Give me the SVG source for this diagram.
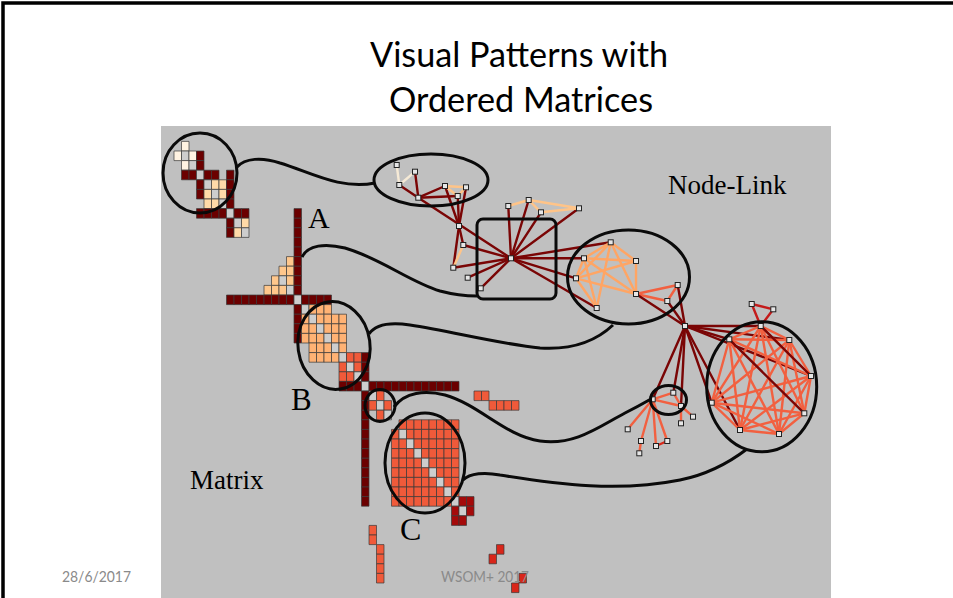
<svg xmlns="http://www.w3.org/2000/svg" xmlns:xlink="http://www.w3.org/1999/xlink" width="953" height="598" viewBox="0 0 953 598">
<style>
.cell rect{vector-effect:non-scaling-stroke;stroke:#3a3a3a;stroke-width:0.7}
.d{fill:#6b0000}.g{fill:#cdcdcd}.c1{fill:#fff3e2}.c2{fill:#ffdaa8}.a{fill:#ffc78c}.b{fill:#ffb274}.r{fill:#f05a3a}.m{fill:#a50a0a}.br{fill:#d8261a}
.e line{stroke-width:2.4;stroke-linecap:round}
.ed{stroke:#7a0505}.ec{stroke:#f6ead6}.el{stroke:#ffc488}.eo{stroke:#ffa564}.er{stroke:#f26040}.et{stroke:#c41a1a}.eb{stroke:#d82a1c}
.out{fill:none;stroke:#0a0a0a;stroke-width:3}
.lbl{font-family:"Liberation Serif","Times New Roman",serif;fill:#000}
.ft{font-family:Lato,"Liberation Sans",sans-serif;font-size:15px;fill:#8a8a8a}
</style>
<defs>
<rect id="nd" x="-2.5" y="-2.5" width="5" height="5" fill="#e6e6e6" stroke="#222" stroke-width="1"/>
</defs>
<rect width="953" height="598" fill="#fff"/>
<path d="M3 598 V3 H953" fill="none" stroke="#000" stroke-width="3.5"/>
<text x="519" y="67" text-anchor="middle" font-family="Lato,'Liberation Sans',sans-serif" font-size="35" textLength="298" lengthAdjust="spacingAndGlyphs" fill="#000">Visual Patterns with</text>
<text x="521" y="112" text-anchor="middle" font-family="Lato,'Liberation Sans',sans-serif" font-size="35" textLength="264" lengthAdjust="spacingAndGlyphs" fill="#000">Ordered Matrices</text>
<rect x="161" y="126" width="670" height="472" fill="#c0c0c0"/>
<g id="matrix" class="cell" transform="translate(174 141.4) scale(7.5 9.6)">
<rect class="c1" x="1" y="0" width="1" height="1"/>
<rect class="c1" x="0" y="1" width="1" height="1"/><rect class="g" x="1" y="1" width="1" height="1"/><rect class="c1" x="2" y="1" width="1" height="1"/><rect class="d" x="3" y="1" width="1" height="1"/>
<rect class="c1" x="1" y="2" width="1" height="1"/><rect class="g" x="2" y="2" width="1" height="1"/><rect class="d" x="3" y="2" width="1" height="1"/>
<rect class="d" x="1" y="3" width="1" height="1"/><rect class="d" x="2" y="3" width="1" height="1"/><rect class="g" x="3" y="3" width="1" height="1"/><rect class="d" x="4" y="3" width="1" height="1"/><rect class="d" x="5" y="3" width="1" height="1"/><rect class="d" x="7" y="3" width="1" height="1"/>
<rect class="d" x="3" y="4" width="1" height="1"/><rect class="g" x="4" y="4" width="1" height="1"/><rect class="c2" x="5" y="4" width="1" height="1"/><rect class="c2" x="6" y="4" width="1" height="1"/><rect class="d" x="7" y="4" width="1" height="1"/>
<rect class="d" x="3" y="5" width="1" height="1"/><rect class="c2" x="4" y="5" width="1" height="1"/><rect class="g" x="5" y="5" width="1" height="1"/><rect class="c2" x="6" y="5" width="1" height="1"/><rect class="d" x="7" y="5" width="1" height="1"/>
<rect class="c2" x="4" y="6" width="1" height="1"/><rect class="c2" x="5" y="6" width="1" height="1"/><rect class="g" x="6" y="6" width="1" height="1"/><rect class="d" x="7" y="6" width="1" height="1"/>
<rect class="d" x="3" y="7" width="1" height="1"/><rect class="d" x="4" y="7" width="1" height="1"/><rect class="d" x="5" y="7" width="1" height="1"/><rect class="d" x="6" y="7" width="1" height="1"/><rect class="g" x="7" y="7" width="1" height="1"/><rect class="d" x="8" y="7" width="1" height="1"/><rect class="d" x="9" y="7" width="1" height="1"/><rect class="d" x="16" y="7" width="1" height="1"/>
<rect class="d" x="7" y="8" width="1" height="1"/><rect class="g" x="8" y="8" width="1" height="1"/><rect class="c2" x="9" y="8" width="1" height="1"/><rect class="d" x="16" y="8" width="1" height="1"/>
<rect class="d" x="7" y="9" width="1" height="1"/><rect class="c2" x="8" y="9" width="1" height="1"/><rect class="g" x="9" y="9" width="1" height="1"/><rect class="d" x="16" y="9" width="1" height="1"/>
<rect class="d" x="16" y="10" width="1" height="1"/>
<rect class="d" x="16" y="11" width="1" height="1"/>
<rect class="a" x="15" y="12" width="1" height="1"/><rect class="d" x="16" y="12" width="1" height="1"/>
<rect class="a" x="14" y="13" width="1" height="1"/><rect class="a" x="15" y="13" width="1" height="1"/><rect class="d" x="16" y="13" width="1" height="1"/>
<rect class="a" x="13" y="14" width="1" height="1"/><rect class="g" x="14" y="14" width="1" height="1"/><rect class="a" x="15" y="14" width="1" height="1"/><rect class="d" x="16" y="14" width="1" height="1"/>
<rect class="a" x="12" y="15" width="1" height="1"/><rect class="a" x="13" y="15" width="1" height="1"/><rect class="a" x="14" y="15" width="1" height="1"/><rect class="g" x="15" y="15" width="1" height="1"/><rect class="d" x="16" y="15" width="1" height="1"/>
<rect class="d" x="7" y="16" width="1" height="1"/><rect class="d" x="8" y="16" width="1" height="1"/><rect class="d" x="9" y="16" width="1" height="1"/><rect class="d" x="10" y="16" width="1" height="1"/><rect class="d" x="11" y="16" width="1" height="1"/><rect class="d" x="12" y="16" width="1" height="1"/><rect class="d" x="13" y="16" width="1" height="1"/><rect class="d" x="14" y="16" width="1" height="1"/><rect class="d" x="15" y="16" width="1" height="1"/><rect class="g" x="16" y="16" width="1" height="1"/><rect class="d" x="17" y="16" width="1" height="1"/><rect class="d" x="18" y="16" width="1" height="1"/><rect class="d" x="19" y="16" width="1" height="1"/><rect class="d" x="20" y="16" width="1" height="1"/>
<rect class="d" x="16" y="17" width="1" height="1"/><rect class="g" x="17" y="17" width="1" height="1"/><rect class="b" x="18" y="17" width="1" height="1"/><rect class="b" x="19" y="17" width="1" height="1"/><rect class="b" x="20" y="17" width="1" height="1"/>
<rect class="d" x="16" y="18" width="1" height="1"/><rect class="b" x="17" y="18" width="1" height="1"/><rect class="g" x="18" y="18" width="1" height="1"/><rect class="b" x="19" y="18" width="1" height="1"/><rect class="b" x="20" y="18" width="1" height="1"/><rect class="b" x="21" y="18" width="1" height="1"/><rect class="b" x="22" y="18" width="1" height="1"/>
<rect class="d" x="16" y="19" width="1" height="1"/><rect class="b" x="17" y="19" width="1" height="1"/><rect class="b" x="18" y="19" width="1" height="1"/><rect class="g" x="19" y="19" width="1" height="1"/><rect class="b" x="20" y="19" width="1" height="1"/><rect class="b" x="21" y="19" width="1" height="1"/><rect class="b" x="22" y="19" width="1" height="1"/>
<rect class="d" x="16" y="20" width="1" height="1"/><rect class="b" x="17" y="20" width="1" height="1"/><rect class="b" x="18" y="20" width="1" height="1"/><rect class="b" x="19" y="20" width="1" height="1"/><rect class="g" x="20" y="20" width="1" height="1"/><rect class="b" x="21" y="20" width="1" height="1"/><rect class="b" x="22" y="20" width="1" height="1"/>
<rect class="b" x="18" y="21" width="1" height="1"/><rect class="b" x="19" y="21" width="1" height="1"/><rect class="b" x="20" y="21" width="1" height="1"/><rect class="g" x="21" y="21" width="1" height="1"/><rect class="b" x="22" y="21" width="1" height="1"/>
<rect class="b" x="18" y="22" width="1" height="1"/><rect class="b" x="19" y="22" width="1" height="1"/><rect class="b" x="20" y="22" width="1" height="1"/><rect class="b" x="21" y="22" width="1" height="1"/><rect class="g" x="22" y="22" width="1" height="1"/><rect class="r" x="23" y="22" width="1" height="1"/><rect class="r" x="24" y="22" width="1" height="1"/><rect class="d" x="25" y="22" width="1" height="1"/>
<rect class="r" x="22" y="23" width="1" height="1"/><rect class="g" x="23" y="23" width="1" height="1"/><rect class="r" x="24" y="23" width="1" height="1"/><rect class="d" x="25" y="23" width="1" height="1"/>
<rect class="r" x="22" y="24" width="1" height="1"/><rect class="r" x="23" y="24" width="1" height="1"/><rect class="g" x="24" y="24" width="1" height="1"/><rect class="d" x="25" y="24" width="1" height="1"/>
<rect class="d" x="22" y="25" width="1" height="1"/><rect class="d" x="23" y="25" width="1" height="1"/><rect class="d" x="24" y="25" width="1" height="1"/><rect class="g" x="25" y="25" width="1" height="1"/><rect class="d" x="26" y="25" width="1" height="1"/><rect class="d" x="27" y="25" width="1" height="1"/><rect class="d" x="28" y="25" width="1" height="1"/><rect class="d" x="29" y="25" width="1" height="1"/><rect class="d" x="30" y="25" width="1" height="1"/><rect class="d" x="31" y="25" width="1" height="1"/><rect class="d" x="32" y="25" width="1" height="1"/><rect class="d" x="33" y="25" width="1" height="1"/><rect class="d" x="34" y="25" width="1" height="1"/><rect class="d" x="35" y="25" width="1" height="1"/><rect class="d" x="36" y="25" width="1" height="1"/><rect class="d" x="37" y="25" width="1" height="1"/>
<rect class="d" x="25" y="26" width="1" height="1"/><rect class="g" x="26" y="26" width="1" height="1"/><rect class="r" x="27" y="26" width="1" height="1"/><rect class="r" x="40" y="26" width="1" height="1"/><rect class="r" x="41" y="26" width="1" height="1"/>
<rect class="d" x="25" y="27" width="1" height="1"/><rect class="r" x="26" y="27" width="1" height="1"/><rect class="g" x="27" y="27" width="1" height="1"/><rect class="r" x="28" y="27" width="1" height="1"/><rect class="r" x="42" y="27" width="1" height="1"/><rect class="r" x="43" y="27" width="1" height="1"/><rect class="r" x="44" y="27" width="1" height="1"/><rect class="r" x="45" y="27" width="1" height="1"/>
<rect class="d" x="25" y="28" width="1" height="1"/><rect class="r" x="27" y="28" width="1" height="1"/><rect class="g" x="28" y="28" width="1" height="1"/>
<rect class="d" x="25" y="29" width="1" height="1"/><rect class="r" x="30" y="29" width="1" height="1"/><rect class="r" x="31" y="29" width="1" height="1"/><rect class="r" x="32" y="29" width="1" height="1"/><rect class="r" x="33" y="29" width="1" height="1"/><rect class="r" x="34" y="29" width="1" height="1"/><rect class="r" x="35" y="29" width="1" height="1"/><rect class="r" x="36" y="29" width="1" height="1"/><rect class="r" x="37" y="29" width="1" height="1"/>
<rect class="d" x="25" y="30" width="1" height="1"/><rect class="r" x="29" y="30" width="1" height="1"/><rect class="g" x="30" y="30" width="1" height="1"/><rect class="r" x="31" y="30" width="1" height="1"/><rect class="r" x="32" y="30" width="1" height="1"/><rect class="r" x="33" y="30" width="1" height="1"/><rect class="r" x="34" y="30" width="1" height="1"/><rect class="r" x="35" y="30" width="1" height="1"/><rect class="r" x="36" y="30" width="1" height="1"/><rect class="r" x="37" y="30" width="1" height="1"/>
<rect class="d" x="25" y="31" width="1" height="1"/><rect class="r" x="29" y="31" width="1" height="1"/><rect class="r" x="30" y="31" width="1" height="1"/><rect class="g" x="31" y="31" width="1" height="1"/><rect class="r" x="32" y="31" width="1" height="1"/><rect class="r" x="33" y="31" width="1" height="1"/><rect class="r" x="34" y="31" width="1" height="1"/><rect class="r" x="35" y="31" width="1" height="1"/><rect class="r" x="36" y="31" width="1" height="1"/><rect class="r" x="37" y="31" width="1" height="1"/>
<rect class="d" x="25" y="32" width="1" height="1"/><rect class="r" x="29" y="32" width="1" height="1"/><rect class="r" x="30" y="32" width="1" height="1"/><rect class="r" x="31" y="32" width="1" height="1"/><rect class="g" x="32" y="32" width="1" height="1"/><rect class="r" x="33" y="32" width="1" height="1"/><rect class="r" x="34" y="32" width="1" height="1"/><rect class="r" x="35" y="32" width="1" height="1"/><rect class="r" x="36" y="32" width="1" height="1"/><rect class="r" x="37" y="32" width="1" height="1"/>
<rect class="d" x="25" y="33" width="1" height="1"/><rect class="r" x="29" y="33" width="1" height="1"/><rect class="r" x="30" y="33" width="1" height="1"/><rect class="r" x="31" y="33" width="1" height="1"/><rect class="r" x="32" y="33" width="1" height="1"/><rect class="g" x="33" y="33" width="1" height="1"/><rect class="r" x="34" y="33" width="1" height="1"/><rect class="r" x="35" y="33" width="1" height="1"/><rect class="r" x="36" y="33" width="1" height="1"/><rect class="r" x="37" y="33" width="1" height="1"/>
<rect class="d" x="25" y="34" width="1" height="1"/><rect class="r" x="29" y="34" width="1" height="1"/><rect class="r" x="30" y="34" width="1" height="1"/><rect class="r" x="31" y="34" width="1" height="1"/><rect class="r" x="32" y="34" width="1" height="1"/><rect class="r" x="33" y="34" width="1" height="1"/><rect class="g" x="34" y="34" width="1" height="1"/><rect class="r" x="35" y="34" width="1" height="1"/><rect class="r" x="36" y="34" width="1" height="1"/><rect class="r" x="37" y="34" width="1" height="1"/>
<rect class="d" x="25" y="35" width="1" height="1"/><rect class="r" x="29" y="35" width="1" height="1"/><rect class="r" x="30" y="35" width="1" height="1"/><rect class="r" x="31" y="35" width="1" height="1"/><rect class="r" x="32" y="35" width="1" height="1"/><rect class="r" x="33" y="35" width="1" height="1"/><rect class="r" x="34" y="35" width="1" height="1"/><rect class="g" x="35" y="35" width="1" height="1"/><rect class="r" x="36" y="35" width="1" height="1"/><rect class="r" x="37" y="35" width="1" height="1"/>
<rect class="d" x="25" y="36" width="1" height="1"/><rect class="r" x="29" y="36" width="1" height="1"/><rect class="r" x="30" y="36" width="1" height="1"/><rect class="r" x="31" y="36" width="1" height="1"/><rect class="r" x="32" y="36" width="1" height="1"/><rect class="r" x="33" y="36" width="1" height="1"/><rect class="r" x="34" y="36" width="1" height="1"/><rect class="r" x="35" y="36" width="1" height="1"/><rect class="g" x="36" y="36" width="1" height="1"/><rect class="r" x="37" y="36" width="1" height="1"/>
<rect class="d" x="25" y="37" width="1" height="1"/><rect class="r" x="29" y="37" width="1" height="1"/><rect class="r" x="30" y="37" width="1" height="1"/><rect class="r" x="31" y="37" width="1" height="1"/><rect class="r" x="32" y="37" width="1" height="1"/><rect class="r" x="33" y="37" width="1" height="1"/><rect class="r" x="34" y="37" width="1" height="1"/><rect class="r" x="35" y="37" width="1" height="1"/><rect class="r" x="36" y="37" width="1" height="1"/><rect class="g" x="37" y="37" width="1" height="1"/><rect class="m" x="38" y="37" width="1" height="1"/><rect class="m" x="39" y="37" width="1" height="1"/>
<rect class="m" x="37" y="38" width="1" height="1"/><rect class="g" x="38" y="38" width="1" height="1"/><rect class="m" x="39" y="38" width="1" height="1"/>
<rect class="m" x="37" y="39" width="1" height="1"/><rect class="m" x="38" y="39" width="1" height="1"/>
<rect class="r" x="26" y="40" width="1" height="1"/>
<rect class="r" x="26" y="41" width="1" height="1"/>
<rect class="r" x="27" y="42" width="1" height="1"/><rect class="br" x="43" y="42" width="1" height="1"/>
<rect class="r" x="27" y="43" width="1" height="1"/><rect class="br" x="42" y="43" width="1" height="1"/>
<rect class="r" x="27" y="44" width="1" height="1"/>
<rect class="r" x="27" y="45" width="1" height="1"/><rect class="br" x="46" y="45" width="1" height="1"/>
<rect class="br" x="45" y="46" width="1" height="1"/>
</g>
<g id="labels">
<text class="lbl" x="308" y="228" font-size="30">A</text>
<text class="lbl" x="291" y="410" font-size="31">B</text>
<text class="lbl" x="400" y="540" font-size="32">C</text>
<text class="lbl" x="190" y="489" font-size="27">Matrix</text>
<text class="lbl" x="668" y="194" font-size="27">Node-Link</text>
</g>
<g id="edges" class="e">
<line class="ec" x1="396.7" y1="165" x2="399.3" y2="185"/>
<line class="ec" x1="399.3" y1="185" x2="415" y2="171.7"/>
<line class="ed" x1="415" y1="171.7" x2="418.3" y2="197.7"/>
<line class="ed" x1="399.3" y1="185" x2="418.3" y2="197.7"/>
<line class="ed" x1="418.3" y1="197.7" x2="445" y2="186"/>
<line class="ed" x1="418.3" y1="197.7" x2="457.7" y2="196"/>
<line class="ed" x1="418.3" y1="197.7" x2="511" y2="258.3"/>
<line class="ed" x1="445" y1="186" x2="459" y2="226"/>
<line class="ed" x1="457.7" y1="196" x2="459" y2="226"/>
<line class="ed" x1="466" y1="187.3" x2="459" y2="226"/>
<line class="ed" x1="459" y1="226" x2="453.3" y2="267.7"/>
<line class="ed" x1="459" y1="226" x2="463.3" y2="245"/>
<line class="ed" x1="453.3" y1="267.7" x2="511" y2="258.3"/>
<line class="ed" x1="463.3" y1="245" x2="511" y2="258.3"/>
<line class="ed" x1="467.7" y1="277.7" x2="511" y2="258.3"/>
<line class="ed" x1="480.7" y1="288.3" x2="511" y2="258.3"/>
<line class="ed" x1="508.3" y1="206" x2="511" y2="258.3"/>
<line class="ed" x1="528.7" y1="200" x2="511" y2="258.3"/>
<line class="ed" x1="541" y1="212.3" x2="511" y2="258.3"/>
<line class="ed" x1="579" y1="208.3" x2="511" y2="258.3"/>
<line class="ed" x1="511" y1="258.3" x2="610.7" y2="242.3"/>
<line class="ed" x1="511" y1="258.3" x2="584" y2="258.3"/>
<line class="ed" x1="511" y1="258.3" x2="576" y2="278.3"/>
<line class="ed" x1="511" y1="258.3" x2="596.7" y2="308"/>
<line class="el" x1="445" y1="186" x2="466" y2="187.3"/>
<line class="el" x1="445" y1="186" x2="457.7" y2="196"/>
<line class="el" x1="466" y1="187.3" x2="457.7" y2="196"/>
<line class="el" x1="463.3" y1="245" x2="453.3" y2="267.7"/>
<line class="el" x1="508.3" y1="206" x2="528.7" y2="200"/>
<line class="el" x1="528.7" y1="200" x2="579" y2="208.3"/>
<line class="el" x1="541" y1="212.3" x2="579" y2="208.3"/>
<line class="el" x1="528.7" y1="200" x2="541" y2="212.3"/>
<line class="eo" x1="610.7" y1="242.3" x2="584" y2="258.3"/>
<line class="eo" x1="610.7" y1="242.3" x2="636" y2="261"/>
<line class="eo" x1="610.7" y1="242.3" x2="576" y2="278.3"/>
<line class="eo" x1="610.7" y1="242.3" x2="636" y2="294"/>
<line class="eo" x1="610.7" y1="242.3" x2="596.7" y2="308"/>
<line class="eo" x1="584" y1="258.3" x2="636" y2="261"/>
<line class="eo" x1="584" y1="258.3" x2="576" y2="278.3"/>
<line class="eo" x1="584" y1="258.3" x2="636" y2="294"/>
<line class="eo" x1="584" y1="258.3" x2="596.7" y2="308"/>
<line class="eo" x1="576" y1="278.3" x2="636" y2="261"/>
<line class="eo" x1="576" y1="278.3" x2="636" y2="294"/>
<line class="eo" x1="576" y1="278.3" x2="596.7" y2="308"/>
<line class="eo" x1="636" y1="261" x2="636" y2="294"/>
<line class="er" x1="636" y1="294" x2="677.7" y2="285"/>
<line class="er" x1="636" y1="294" x2="667.3" y2="301"/>
<line class="er" x1="677.7" y1="285" x2="667.3" y2="301"/>
<line class="ed" x1="636" y1="294" x2="685" y2="326"/>
<line class="ed" x1="667.3" y1="301" x2="685" y2="326"/>
<line class="ed" x1="677.7" y1="285" x2="685" y2="326"/>
<line class="ed" x1="685" y1="326" x2="760.7" y2="326"/>
<line class="ed" x1="685" y1="326" x2="729.3" y2="339.3"/>
<line class="ed" x1="685" y1="326" x2="789.3" y2="340"/>
<line class="ed" x1="685" y1="326" x2="811" y2="376"/>
<line class="ed" x1="685" y1="326" x2="711.7" y2="402.7"/>
<line class="ed" x1="685" y1="326" x2="740" y2="430"/>
<line class="ed" x1="685" y1="326" x2="652.7" y2="399.3"/>
<line class="ed" x1="685" y1="326" x2="673.3" y2="392.7"/>
<line class="ed" x1="685" y1="326" x2="681" y2="406"/>
<line class="et" x1="751.7" y1="304" x2="773.3" y2="309.3"/>
<line class="et" x1="751.7" y1="304" x2="760.7" y2="326"/>
<line class="et" x1="773.3" y1="309.3" x2="760.7" y2="326"/>
<line class="er" x1="760.7" y1="326" x2="729.3" y2="339.3"/>
<line class="er" x1="760.7" y1="326" x2="789.3" y2="340"/>
<line class="er" x1="760.7" y1="326" x2="811" y2="376"/>
<line class="er" x1="760.7" y1="326" x2="711.7" y2="402.7"/>
<line class="er" x1="760.7" y1="326" x2="804.3" y2="413.3"/>
<line class="er" x1="760.7" y1="326" x2="740" y2="430"/>
<line class="er" x1="760.7" y1="326" x2="779" y2="434"/>
<line class="er" x1="729.3" y1="339.3" x2="789.3" y2="340"/>
<line class="er" x1="729.3" y1="339.3" x2="811" y2="376"/>
<line class="er" x1="729.3" y1="339.3" x2="711.7" y2="402.7"/>
<line class="er" x1="729.3" y1="339.3" x2="740" y2="430"/>
<line class="er" x1="729.3" y1="339.3" x2="779" y2="434"/>
<line class="er" x1="789.3" y1="340" x2="811" y2="376"/>
<line class="er" x1="789.3" y1="340" x2="711.7" y2="402.7"/>
<line class="er" x1="789.3" y1="340" x2="804.3" y2="413.3"/>
<line class="er" x1="789.3" y1="340" x2="740" y2="430"/>
<line class="er" x1="789.3" y1="340" x2="779" y2="434"/>
<line class="er" x1="811" y1="376" x2="711.7" y2="402.7"/>
<line class="er" x1="811" y1="376" x2="804.3" y2="413.3"/>
<line class="er" x1="811" y1="376" x2="740" y2="430"/>
<line class="er" x1="811" y1="376" x2="779" y2="434"/>
<line class="er" x1="711.7" y1="402.7" x2="804.3" y2="413.3"/>
<line class="er" x1="711.7" y1="402.7" x2="740" y2="430"/>
<line class="er" x1="711.7" y1="402.7" x2="779" y2="434"/>
<line class="er" x1="804.3" y1="413.3" x2="740" y2="430"/>
<line class="er" x1="804.3" y1="413.3" x2="779" y2="434"/>
<line class="er" x1="740" y1="430" x2="779" y2="434"/>
<line class="ed" x1="729.3" y1="339.3" x2="804.3" y2="413.3"/>
<line class="ed" x1="760.7" y1="326" x2="811" y2="376"/>
<line class="er" x1="652.7" y1="399.3" x2="673.3" y2="392.7"/>
<line class="er" x1="652.7" y1="399.3" x2="681" y2="406"/>
<line class="er" x1="673.3" y1="392.7" x2="681" y2="406"/>
<line class="er" x1="681" y1="406" x2="693" y2="416.7"/>
<line class="er" x1="681" y1="406" x2="681" y2="423.3"/>
<line class="er" x1="652.7" y1="399.3" x2="627.7" y2="429.3"/>
<line class="er" x1="652.7" y1="399.3" x2="641" y2="441"/>
<line class="er" x1="652.7" y1="399.3" x2="656" y2="446"/>
<line class="er" x1="652.7" y1="399.3" x2="667.3" y2="441"/>
<line class="er" x1="641" y1="441" x2="639.3" y2="453.3"/>
<line class="eb" x1="656" y1="446" x2="667.3" y2="441"/>
</g>
<g id="nodes">
<use id="n1" xlink:href="#nd" x="396.7" y="165"/>
<use id="n2" xlink:href="#nd" x="415" y="171.7"/>
<use id="n3" xlink:href="#nd" x="399.3" y="185"/>
<use id="n4" xlink:href="#nd" x="418.3" y="197.7"/>
<use id="n5" xlink:href="#nd" x="445" y="186"/>
<use id="n6" xlink:href="#nd" x="466" y="187.3"/>
<use id="n7" xlink:href="#nd" x="457.7" y="196"/>
<use id="n8" xlink:href="#nd" x="459" y="226"/>
<use id="n9" xlink:href="#nd" x="463.3" y="245"/>
<use id="n10" xlink:href="#nd" x="453.3" y="267.7"/>
<use id="n11" xlink:href="#nd" x="467.7" y="277.7"/>
<use id="n12" xlink:href="#nd" x="480.7" y="288.3"/>
<use id="hub1" xlink:href="#nd" x="511" y="258.3"/>
<use id="n13" xlink:href="#nd" x="508.3" y="206"/>
<use id="n14" xlink:href="#nd" x="528.7" y="200"/>
<use id="n15" xlink:href="#nd" x="541" y="212.3"/>
<use id="n16" xlink:href="#nd" x="579" y="208.3"/>
<use id="m1" xlink:href="#nd" x="610.7" y="242.3"/>
<use id="m2" xlink:href="#nd" x="584" y="258.3"/>
<use id="m3" xlink:href="#nd" x="636" y="261"/>
<use id="m4" xlink:href="#nd" x="576" y="278.3"/>
<use id="m5" xlink:href="#nd" x="636" y="294"/>
<use id="m6" xlink:href="#nd" x="596.7" y="308"/>
<use id="m7" xlink:href="#nd" x="677.7" y="285"/>
<use id="m8" xlink:href="#nd" x="667.3" y="301"/>
<use id="hub2" xlink:href="#nd" x="685" y="326"/>
<use id="t1" xlink:href="#nd" x="751.7" y="304"/>
<use id="t2" xlink:href="#nd" x="773.3" y="309.3"/>
<use id="c1" xlink:href="#nd" x="760.7" y="326"/>
<use id="c2" xlink:href="#nd" x="729.3" y="339.3"/>
<use id="c3" xlink:href="#nd" x="789.3" y="340"/>
<use id="c4" xlink:href="#nd" x="811" y="376"/>
<use id="c5" xlink:href="#nd" x="711.7" y="402.7"/>
<use id="c6" xlink:href="#nd" x="804.3" y="413.3"/>
<use id="c7" xlink:href="#nd" x="740" y="430"/>
<use id="c8" xlink:href="#nd" x="779" y="434"/>
<use id="s0" xlink:href="#nd" x="652.7" y="399.3"/>
<use id="s1" xlink:href="#nd" x="673.3" y="392.7"/>
<use id="s2" xlink:href="#nd" x="681" y="406"/>
<use id="s3" xlink:href="#nd" x="693" y="416.7"/>
<use id="s4" xlink:href="#nd" x="681" y="423.3"/>
<use id="s5" xlink:href="#nd" x="627.7" y="429.3"/>
<use id="s6" xlink:href="#nd" x="641" y="441"/>
<use id="s7" xlink:href="#nd" x="639.3" y="453.3"/>
<use id="s8" xlink:href="#nd" x="656" y="446"/>
<use id="s9" xlink:href="#nd" x="667.3" y="441"/>
</g>
<g id="outlines">
<ellipse class="out" cx="200" cy="173" rx="37" ry="40"/>
<ellipse class="out" cx="431" cy="180" rx="57" ry="26"/>
<rect class="out" x="477" y="219" width="79" height="80" rx="6"/>
<ellipse class="out" cx="628.5" cy="277" rx="61" ry="47"/>
<ellipse class="out" cx="334" cy="345.5" rx="36" ry="44" transform="rotate(-8 334 345.5)"/>
<ellipse class="out" cx="380" cy="405.5" rx="15" ry="16"/>
<ellipse class="out" cx="425" cy="463" rx="40" ry="50"/>
<ellipse class="out" cx="668.5" cy="400" rx="18" ry="14.5"/>
<ellipse class="out" cx="761.7" cy="386.7" rx="55" ry="65"/>
</g>
<g id="connectors">
<path class="out" d="M237 167 C245 158 262 157 280 163 C310 172 340 190 375 183"/>
<path class="out" d="M302 257 C308 245 325 243 345 248 C380 258 410 282 440 291 C455 295 468 296 477 296"/>
<path class="out" d="M369 334 C375 325 390 322 410 325 C450 331 500 344 540 348 C570 350 595 342 613 325"/>
<path class="out" d="M394 407 C405 392 425 390 445 395 C480 405 505 436 540 441 C575 446 600 426 625 413 C635 408 644 403 651 399"/>
<path class="out" d="M463 480 C470 473 485 472 500 475 C560 485 620 492 680 480 C710 474 730 462 747 449"/>
</g>
<text class="ft" x="62" y="582" textLength="69" lengthAdjust="spacingAndGlyphs">28/6/2017</text>
<text class="ft" x="441" y="582" textLength="88" lengthAdjust="spacingAndGlyphs">WSOM+ 2017</text>
</svg>
